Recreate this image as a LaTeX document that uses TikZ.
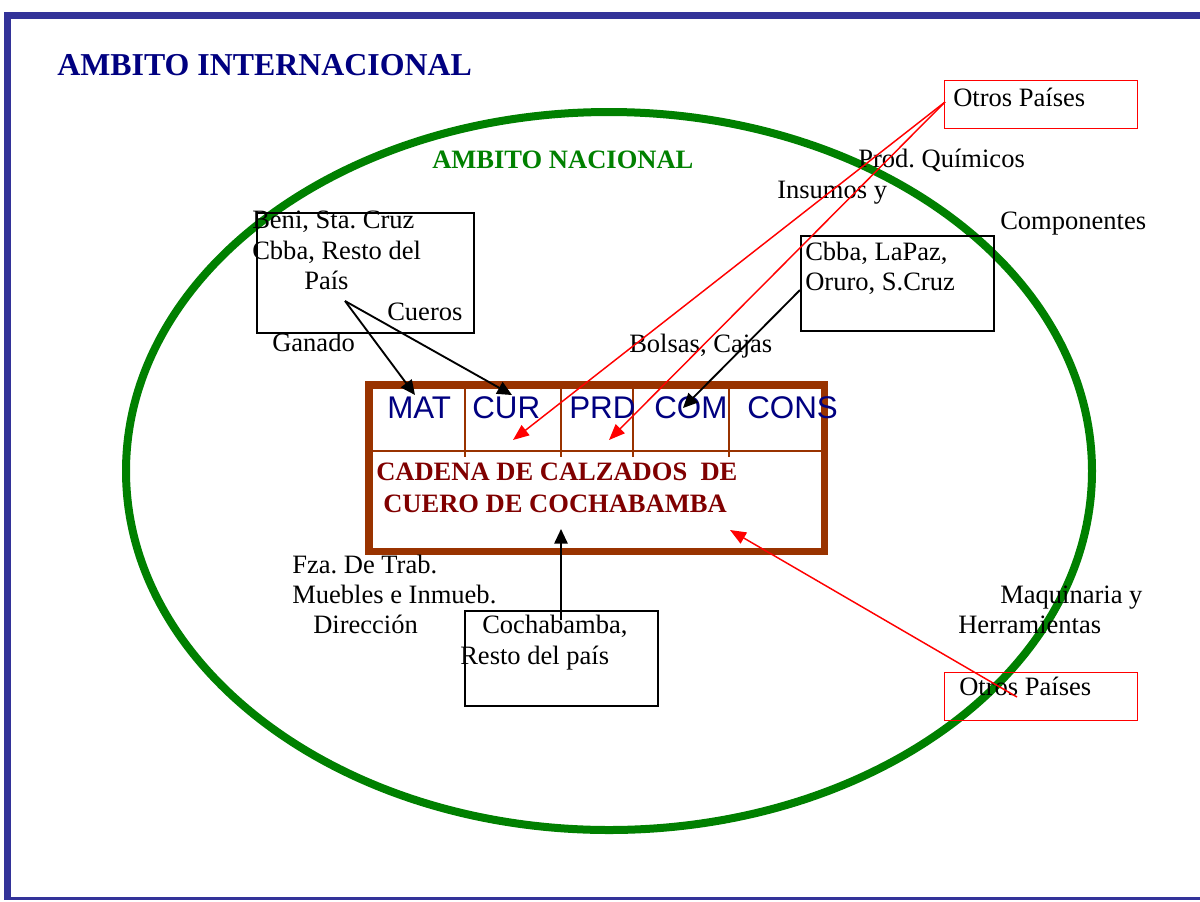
\documentclass[tikz,border=0pt]{standalone}
\usepackage{fontspec}
\setmainfont{Liberation Serif}
\newfontfamily\sansf{Liberation Sans}
\usetikzlibrary{arrows.meta}
\definecolor{framecol}{RGB}{51,51,153}
\definecolor{navy}{RGB}{0,0,128}
\definecolor{ovalgreen}{RGB}{0,128,0}
\definecolor{chainbrown}{RGB}{153,51,0}
\definecolor{chainred}{RGB}{128,0,0}
\frenchspacing
\begin{document}
\begin{tikzpicture}[x=0.75pt,y=-0.75pt,
  txt/.style={anchor=base west,inner sep=0pt,font=\fontsize{19.9}{24}\selectfont},
  bigtitle/.style={anchor=base west,inner sep=0pt,text=navy,font=\fontsize{23.9}{28}\selectfont\bfseries},
  greentitle/.style={anchor=base west,inner sep=0pt,text=ovalgreen,font=\fontsize{19.9}{24}\selectfont\bfseries},
  stage/.style={anchor=base west,inner sep=0pt,text=navy,font=\fontsize{23.5}{28}\sansf},
  chaintxt/.style={anchor=base west,inner sep=0pt,text=chainred,font=\fontsize{19.9}{24}\selectfont\bfseries},
  srcbox/.style={draw=black,line width=1.5pt},
  extbox/.style={draw=red,line width=1.1pt},
  cell/.style={chainbrown,line width=1.5pt},
  conn/.style={black,line width=1.4pt,-{Triangle[length=11pt,width=10pt]}},
  extconn/.style={red,line width=1.1pt,-{Triangle[length=12pt,width=9.5pt]}}]
\useasboundingbox (0,0) rectangle (1200,901);

% outer frame
\fill[framecol] (4,12) rectangle (1200,19);
\fill[framecol] (4,12) rectangle (11,900);
\fill[framecol] (4,896.5) rectangle (1200,900);

\node[bigtitle] (intl) at (57,75) {AMBITO INTERNACIONAL};

% national scope
\draw[ovalgreen,line width=6pt] (609,471) ellipse [x radius=483, y radius=359];
\node[greentitle] (nac) at (432,168) {AMBITO NACIONAL};

% source boxes
\node[srcbox,minimum width=217*0.75pt,minimum height=120*0.75pt,inner sep=0pt,anchor=north west] (beni) at (256,212) {};
\node[srcbox,minimum width=193*0.75pt,minimum height=95*0.75pt,inner sep=0pt,anchor=north west] (lapaz) at (800,235) {};
\node[srcbox,minimum width=193*0.75pt,minimum height=95*0.75pt,inner sep=0pt,anchor=north west] (cbba) at (464,610) {};
\node[extbox,minimum width=193*0.75pt,minimum height=48*0.75pt,inner sep=0pt,anchor=north west] (otros1) at (944,80) {};
\node[extbox,minimum width=193*0.75pt,minimum height=48*0.75pt,inner sep=0pt,anchor=north west] (otros2) at (944,672) {};

% chain box
\draw[chainbrown,line width=5.6pt] (369,385) rectangle (824.5,551.5);
\draw[cell] (373,451) -- (821,451);
\foreach \cx in {465,561,633,729} \draw[cell] (\cx,389) -- (\cx,457);
\node[stage] (mat) at (387,418) {MAT};
\node[stage] (cur) at (472,418) {CUR};
\node[stage] (prd) at (569,418) {PRD};
\node[stage] (com) at (654,418) {COM};
\node[stage] (cons) at (747,418) {CONS};
\node[chaintxt] (cad1) at (376,480) {CADENA DE CALZADOS\ \ DE};
\node[chaintxt] (cad2) at (383,512) {CUERO DE COCHABAMBA};

% labels
\node[txt] (beni1) at (252,228) {Beni, Sta. Cruz};
\node[txt] (beni2) at (252,259) {Cbba, Resto del};
\node[txt] (beni3) at (304,289) {País};
\node[txt] (cueros) at (387,320) {Cueros};
\node[txt] (ganado) at (272,351) {Ganado};
\node[txt] (otrosA) at (953,106) {Otros Países};
\node[txt] (prodq) at (858,167) {Prod. Químicos};
\node[txt] (insumos) at (777,198) {Insumos y};
\node[txt] (compon) at (1000,229) {Componentes};
\node[txt] (lp1) at (805,260) {Cbba, LaPaz,};
\node[txt] (lp2) at (805,290) {Oruro, S.Cruz};
\node[txt] (bolsas) at (629,352) {Bolsas, Cajas};
\node[txt] (fza) at (292,573) {Fza. De Trab.};
\node[txt] (muebles) at (292,603) {Muebles e Inmueb.};
\node[txt] (direc) at (313,633) {Dirección};
\node[txt] (cb1) at (482,633) {Cochabamba,};
\node[txt] (cb2) at (460,664) {Resto del país};
\node[txt] (maq) at (1000,603) {Maquinaria y};
\node[txt] (herr) at (958,633) {Herramientas};
\node[txt] (otrosB) at (959,695) {Otros Países};

% connector ends
\coordinate (beniOut) at (345,301);
\coordinate (matIn) at (415,395);
\coordinate (curIn) at (512,395);
\coordinate (lapazOut) at (800,290);
\coordinate (comIn) at (683,408);
\coordinate (otrosOut) at (945,102);
\coordinate (curLow) at (513,440);
\coordinate (prdLow) at (609,440);
\coordinate (cbbaOut) at (561,620);
\coordinate (chainBottom) at (561,529);
\coordinate (otros2Out) at (1017,697);
\coordinate (chainRight) at (730,530);

\draw[conn] (beniOut) -- (matIn);
\draw[conn] (beniOut) -- (curIn);
\draw[conn] (lapazOut) -- (comIn);
\draw[conn] (cbbaOut) -- (chainBottom);
\draw[extconn] (otrosOut) -- (curLow);
\draw[extconn] (otrosOut) -- (prdLow);
\draw[extconn] (otros2Out) -- (chainRight);
\end{tikzpicture}
\end{document}
